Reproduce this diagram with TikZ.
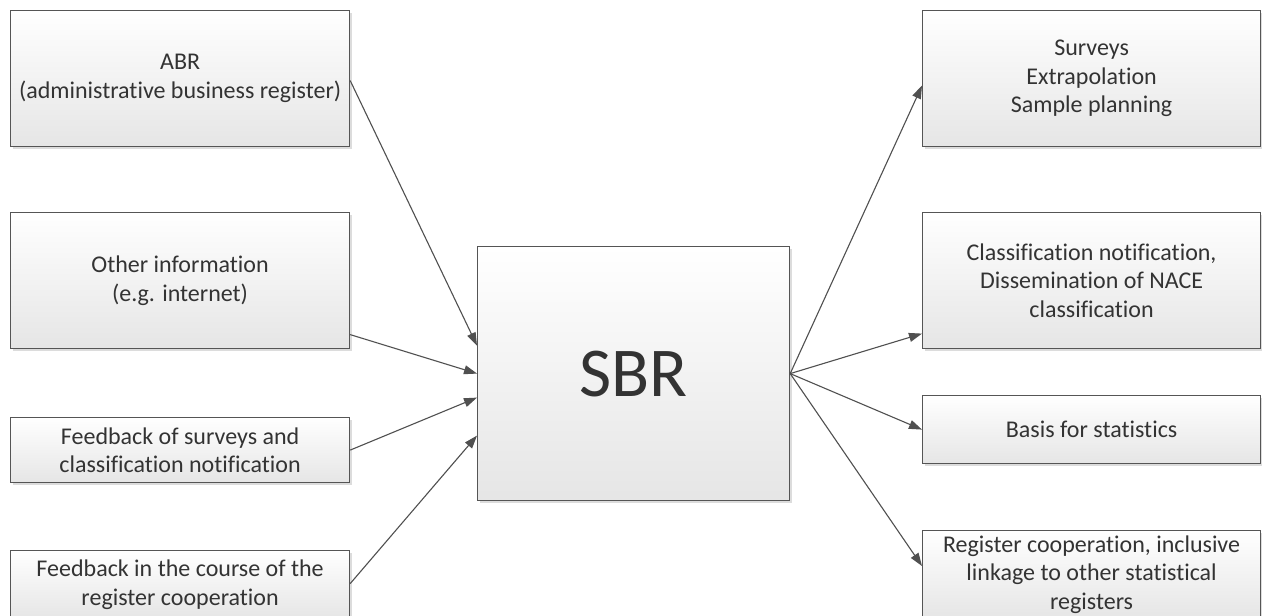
\documentclass[tikz,border=0pt]{standalone}
\usepackage{fontspec}
\setmainfont{Carlito}[Ligatures={NoCommon}]
\usetikzlibrary{arrows.meta,shadows,calc}
\definecolor{txt}{HTML}{333333}
\definecolor{bord}{HTML}{555555}
\definecolor{arr}{HTML}{505050}
\begin{document}
\begin{tikzpicture}[x=1pt,y=-1pt,
  box/.style={draw=bord, line width=1.2pt, top color=white, bottom color=black!10,
    text=txt, align=center, font=\fontsize{24}{28.5}\selectfont, inner sep=0pt,
    anchor=north west,
    drop shadow={shadow xshift=2pt, shadow yshift=-2pt, fill=black!30, opacity=0.45}},
  conn/.style={draw=arr, line width=1.1pt, -{Triangle[length=13pt,width=9pt]}}]
\useasboundingbox (0,0) rectangle (1262,616);
\fill[white] (0,0) rectangle (1262,616);

\node[box, minimum width=339pt, minimum height=136pt] (abr) at (10,10)
  {ABR\\(administrative business register)};
\node[box, minimum width=339pt, minimum height=136pt] (other) at (10,212)
  {Other information\\(e.g. internet)};
\node[box, minimum width=339pt, minimum height=65pt] (fbs) at (10,417)
  {Feedback of surveys and\\classification notification};
\node[box, minimum width=339pt, minimum height=68pt] (fbc) at (10,550)
  {Feedback in the course of the\\register cooperation};

\node[box, minimum width=312pt, minimum height=254pt, font=\fontsize{70}{80}\selectfont] (sbr) at (477,246) {SBR};

\node[box, minimum width=338pt, minimum height=136pt] (surv) at (922,10)
  {Surveys\\Extrapolation\\Sample planning};
\node[box, minimum width=338pt, minimum height=136pt] (cls) at (922,212)
  {Classification notification,\\Dissemination of NACE\\classification};
\node[box, minimum width=338pt, minimum height=68pt] (basis) at (922,395)
  {Basis for statistics};
\node[box, minimum width=338pt, minimum height=88pt] (reg) at (922,530)
  {Register cooperation, inclusive\\linkage to other statistical\\registers};

\draw[conn] ($(abr.east)+(0,2)$) -- ($(sbr.west)+(0,-28)$);
\draw[conn] ($(other.east)+(0,54)$) -- (sbr.west);
\draw[conn] (fbs.east) -- ($(sbr.west)+(0,24)$);
\draw[conn] ($(fbc.east)+(0,-1)$) -- ($(sbr.west)+(0,62)$);

\draw[conn] (sbr.east) -- ($(surv.west)+(0,7)$);
\draw[conn] (sbr.east) -- ($(cls.west)+(0,53)$);
\draw[conn] (sbr.east) -- (basis.west);
\draw[conn] (sbr.east) -- ($(reg.north west)+(0,36)$);
\end{tikzpicture}
\end{document}
